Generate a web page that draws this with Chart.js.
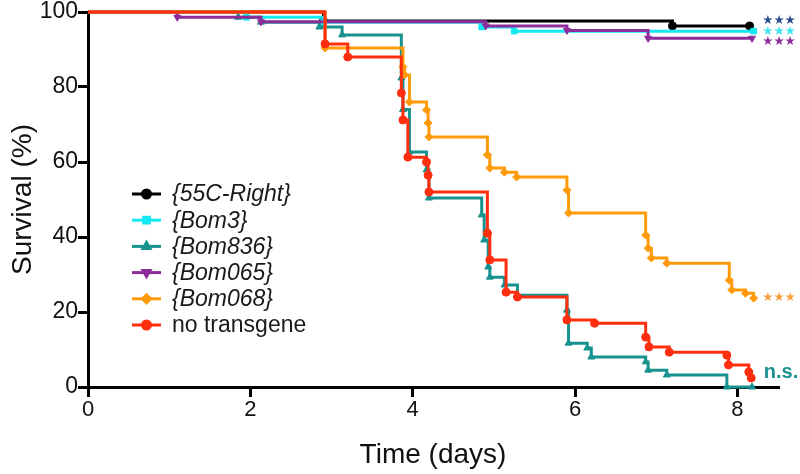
<!DOCTYPE html>
<html>
<head>
<meta charset="utf-8">
<script src="https://cdn.jsdelivr.net/npm/chart.js@4"></script>
<style>
  html, body { margin: 0; padding: 0; background: #fff; }
  #wrap { width: 800px; height: 474px; position: relative; }
</style>
</head>
<body>
<div id="wrap"><canvas id="survival"></canvas></div>
<script>
// Kaplan-Meier curves (time in days, survival in %)
const names = ['{55C-Right}', '{Bom3}', '{Bom836}', '{Bom065}', '{Bom068}', 'no transgene'];

const tBlack = [0, 2.9, 7.2, 8.15];
const sBlack = [100, 97.6, 96.3, 96.3];

const tCyan = [0, 1.95, 2.9, 4.85, 5.25, 8.2];
const sCyan = [100, 98.6, 97.3, 96, 94.9, 94.9];

const tTeal = [0, 1.85, 2.13, 2.85, 3.13, 3.86, 3.88, 3.96, 4.17, 4.2, 4.85, 4.88, 4.93, 4.95, 5.13, 5.29,
               5.9, 5.92, 6.15, 6.2, 6.87, 6.9, 7.13, 7.87, 8.18];
const sTeal = [100, 98.6, 97.3, 96, 93.9, 82.4, 74, 62.7, 57.9, 50.4, 45.9, 39.2, 32, 29.3, 27.2, 24.5,
               20.5, 11.7, 10.4, 8, 6.7, 4.5, 3.2, 0, 0];

const tPurple = [0, 1.1, 2.13, 4.9, 5.9, 6.9, 8.18];
const sPurple = [100, 98.6, 97.4, 96.3, 95.1, 93, 93];

const tOrange = [0, 2.92, 3.88, 3.9, 3.96, 4.17, 4.19, 4.2, 4.92, 4.95, 5.13, 5.28, 5.9, 5.92,
                 6.87, 6.9, 6.94, 7.13, 7.9, 7.93, 8.1, 8.2];
const sOrange = [100, 90.4, 85.4, 83.2, 76, 73.9, 70.4, 66.7, 61.9, 58.4, 57.3, 56, 52.5, 46.4,
                 40.5, 37, 34.4, 33, 28.5, 25.9, 25, 23.7];

const tRed = [0, 2.92, 3.2, 3.86, 3.88, 3.94, 4.17, 4.19, 4.2, 4.92, 4.95, 5.15, 5.29, 5.9, 6.24,
              6.87, 6.91, 7.16, 7.87, 7.89, 8.14, 8.17];
const sRed = [100, 91.5, 88, 78.4, 71.2, 61.3, 60, 56.5, 52, 41, 33.9, 25.3, 24, 17.9, 17,
              13.3, 10.7, 9.3, 8.5, 5.9, 4, 2.4];

const xTicks = [0, 2, 4, 6, 8];
const yTicks = [0, 20, 40, 60, 80, 100];

// significance labels next to the curve ends
const sigText = ['\u2605\u2605\u2605', '\u2605\u2605\u2605', '\u2605\u2605\u2605', '\u2605\u2605\u2605', 'n.s.'];
const sigDay = [8.33, 8.33, 8.33, 8.33, 8.35];
const sigValue = [97.6, 94.8, 92.1, 23.7, 3.9];
const sigColor = ['#2a4d8f', '#3ee6f2', '#8e2c9c', '#f9a040', '#1b9090'];

const FONT = "'Liberation Sans', Arial, sans-serif";

function pts(t, s) {
    return t.map((x, i) => ({ x: x, y: s[i] }));
}

function makeSet(i, t, s, color, style, rot, order) {
    return {
        label: names[i],
        data: pts(t, s),
        borderColor: color,
        backgroundColor: color,
        borderWidth: 3,
        stepped: 'before',
        pointStyle: style,
        rotation: rot,
        pointRadius: ctx => ctx.dataIndex === 0 ? 0 : 4,
        pointBorderWidth: 1,
        clip: false,
        order: order
    };
}

const datasets = [
    makeSet(0, tBlack, sBlack, '#000000', 'circle', 0, 5),
    makeSet(1, tCyan, sCyan, '#14e8f2', 'rect', 0, 4),
    makeSet(2, tTeal, sTeal, '#17928f', 'triangle', 0, 3),
    makeSet(3, tPurple, sPurple, '#8e2c9c', 'triangle', 180, 2),
    makeSet(4, tOrange, sOrange, '#ff9a0a', 'rectRot', 0, 1),
    makeSet(5, tRed, sRed, '#ff2e0f', 'circle', 0, 0)
];

// legend: short line with the marker in the middle, like the original
const legendPlugin = {
    id: 'kmLegend',
    afterDraw(chart) {
        const ctx = chart.ctx;
        const x0 = 132, x1 = 161, tx = 172, top = 194, gap = 26.2;
        chart.data.datasets.forEach((ds, i) => {
            const y = top + i * gap;
            ctx.save();
            ctx.strokeStyle = ds.borderColor;
            ctx.lineWidth = 3;
            ctx.beginPath();
            ctx.moveTo(x0, y);
            ctx.lineTo(x1, y);
            ctx.stroke();
            ctx.fillStyle = ds.backgroundColor;
            Chart.helpers.drawPoint(ctx, {
                pointStyle: ds.pointStyle, radius: 4, rotation: ds.rotation, borderWidth: 1
            }, (x0 + x1) / 2, y);
            ctx.fillStyle = '#1a1a1a';
            ctx.font = (i < 5 ? 'italic ' : '') + '23px ' + FONT;
            ctx.textBaseline = 'middle';
            ctx.textAlign = 'left';
            ctx.fillText(ds.label, tx, y + 1);
            ctx.restore();
        });
    }
};

const sigPlugin = {
    id: 'sigLabels',
    afterDraw(chart) {
        const ctx = chart.ctx;
        const xs = chart.scales.x, ys = chart.scales.y;
        ctx.save();
        ctx.textBaseline = 'middle';
        ctx.textAlign = 'left';
        sigText.forEach((txt, i) => {
            ctx.fillStyle = sigColor[i];
            ctx.font = txt === 'n.s.' ? 'bold 20px ' + FONT : '12.5px DejaVu Sans';
            ctx.fillText(txt, xs.getPixelForValue(sigDay[i]) - 2, ys.getPixelForValue(sigValue[i]));
        });
        ctx.restore();
    }
};

const axisLine = { display: true, color: '#000', width: 3 };
const tickGrid = {
    display: true, drawOnChartArea: false, drawTicks: true,
    tickLength: 10, tickWidth: 3, tickColor: '#000', lineWidth: 3, color: '#000'
};

new Chart(document.getElementById('survival'), {
    type: 'line',
    data: { datasets: datasets },
    options: {
        responsive: true,
        maintainAspectRatio: false,
        animation: false,
        layout: { padding: { left: 0, right: 22, top: 12, bottom: 0 } },
        plugins: {
            legend: { display: false },
            tooltip: { enabled: false }
        },
        scales: {
            x: {
                type: 'linear',
                min: 0,
                max: 8.5,
                border: axisLine,
                grid: tickGrid,
                afterBuildTicks: s => { s.ticks = xTicks.map(v => ({ value: v })); },
                afterFit: s => { s.height = 87; },
                ticks: {
                    color: '#111', padding: 2,
                    font: { family: FONT, size: 22, lineHeight: 1 }
                },
                title: {
                    display: true, text: 'Time (days)', color: '#111',
                    font: { family: FONT, size: 28, lineHeight: 1 },
                    padding: { top: 0, bottom: 5 }
                }
            },
            y: {
                min: 0,
                max: 100,
                border: axisLine,
                grid: tickGrid,
                afterBuildTicks: s => { s.ticks = yTicks.map(v => ({ value: v })); },
                afterFit: s => { s.width = 88; },
                ticks: {
                    color: '#111', padding: 0,
                    font: { family: FONT, size: 23, lineHeight: 1 }
                },
                title: {
                    display: true, text: 'Survival (%)', color: '#111',
                    font: { family: FONT, size: 28, lineHeight: 1 },
                    padding: { top: 9, bottom: 0 }
                }
            }
        }
    },
    plugins: [legendPlugin, sigPlugin]
});
</script>
</body>
</html>
